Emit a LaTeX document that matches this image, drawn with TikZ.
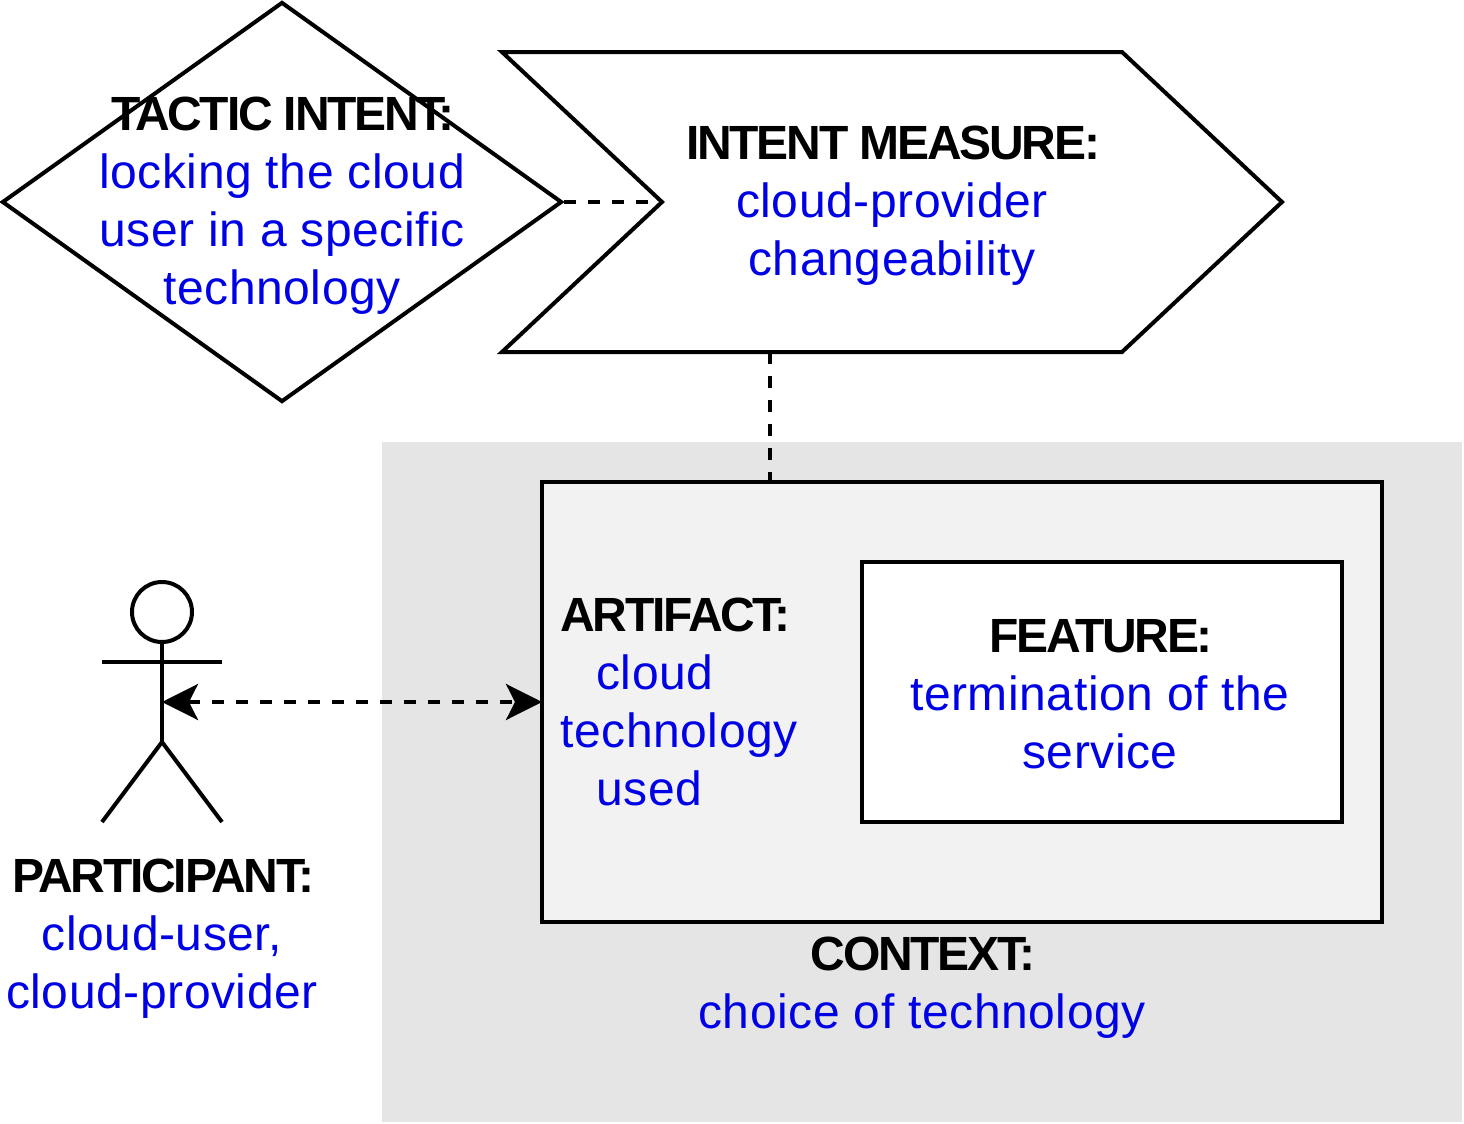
\documentclass[tikz,border=0pt]{standalone}
\usepackage{fontspec}
\setmainfont{Liberation Sans}
\usetikzlibrary{shapes.geometric,arrows.meta}
\definecolor{txtblue}{RGB}{0,0,230}
\tikzset{
  shape line/.style={draw=black, line width=2pt},
  dash line/.style={draw=black, line width=2pt, dash pattern=on 6pt off 6pt},
  lbl/.style={align=center, font=\fontsize{24}{29}\selectfont, inner sep=0pt},
  big tip/.tip={Stealth[length=18pt, width=18pt, inset=4.5pt]}
}
\newcommand{\hd}[1]{\textbf{\addfontfeature{LetterSpace=-4.6}#1}}
\newcommand{\bl}[1]{\textcolor{txtblue}{\addfontfeature{LetterSpace=1.2}#1}}
\begin{document}
\begin{tikzpicture}[x=0.5pt, y=-0.5pt]
  \useasboundingbox (0,0) rectangle (1464,1124);
  \fill[black!10] (382,442) rectangle (1462,1122);

  % top shapes
  \node[diamond, shape line, aspect=1.4, minimum width=280pt, minimum height=200pt, inner sep=0pt] (intent) at (282,202) {};
  \node[lbl] (intenttext) at (282,206) {\hd{TACTIC INTENT:}\\ \bl{locking the cloud}\\ \bl{user in a specific}\\ \bl{technology}};

  \coordinate (measnotch) at (662,202);
  \coordinate (measbottom) at (770,352);
  \draw[shape line, line join=miter] (502,52) -- (1122,52) -- (1282,202) -- (1122,352) -- (502,352) -- (measnotch) -- cycle;
  \node[lbl] (measure) at (892,206) {\hd{INTENT MEASURE:}\\ \bl{cloud-provider}\\ \bl{changeability}};

  % context
  \node[shape line, fill=black!5, minimum width=420pt, minimum height=220pt, inner sep=0pt, outer sep=0pt] (artifact) at (962,702) {};
  \coordinate (arttop) at (770,482);
  \node[lbl, align=left, anchor=west] (artifacttext) at (560,702) {\hd{ARTIFACT:}\\ \hspace*{18pt}\bl{cloud}\\ \bl{technology}\\ \hspace*{18pt}\bl{used}};
  \node[shape line, fill=white, minimum width=240pt, minimum height=130pt, inner sep=0pt, outer sep=0pt] (feature) at (1102,692) {};
  \node[lbl] (featuretext) at (1100,694) {\hd{FEATURE:}\\ \bl{termination of the}\\ \bl{service}};
  \node[lbl] (context) at (922,988) {\hd{CONTEXT:}\\ \bl{choice of technology}};

  % actor
  \node[circle, shape line, minimum size=30pt, inner sep=0pt, outer sep=0pt] (actorhead) at (162,612) {};
  \coordinate (armL) at (102,662);
  \coordinate (armR) at (222,662);
  \coordinate (hip) at (162,742);
  \coordinate (legL) at (102,822);
  \coordinate (legR) at (222,822);
  \coordinate (actormid) at (162,702);
  \draw[shape line] (actorhead.south) -- (hip);
  \draw[shape line] (armL) -- (armR);
  \draw[shape line] (legL) -- (hip) -- (legR);
  \node[lbl] (participant) at (162,939) {\hd{PARTICIPANT:}\\ \bl{cloud-user,}\\ \bl{cloud-provider}};

  % connectors
  \draw[dash line] (intent.east) -- (measnotch);
  \draw[dash line] (measbottom) -- (arttop);
  \draw[dash line, big tip-big tip] (actormid) -- (artifact.west);
\end{tikzpicture}
\end{document}
